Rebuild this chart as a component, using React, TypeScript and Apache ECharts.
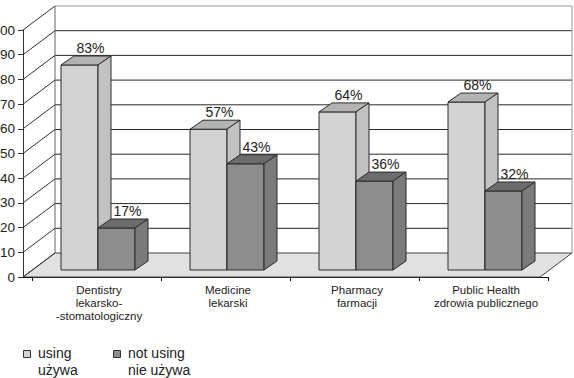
import React, { useEffect, useRef } from "react";
import * as echarts from "echarts";

const categories = [
  "Dentistry\nlekarsko-\n-stomatologiczny",
  "Medicine\nlekarski",
  "Pharmacy\nfarmacji",
  "Public Health\nzdrowia publicznego",
];
const usingValues = [83, 57, 64, 68];
const notUsingValues = [17, 43, 36, 32];
const seriesNames = ["using", "not using"];
const legendLines = [
  ["using", "używa"],
  ["not using", "nie używa"],
];
const yMin = 0;
const yMax = 100;
const yInterval = 10;

const FONT = "'Liberation Sans', Arial, Helvetica, sans-serif";

const barColors = [
  { front: "#d3d3d3", top: "#b3b3b3", side: "#c2c2c2" },
  { front: "#8d8d8d", top: "#6c6c6c", side: "#7b7b7b" },
];

export default function App() {
  const ref = useRef<HTMLDivElement>(null);
  useEffect(() => {
    document.body.style.margin = "0";
    const chart = echarts.init(ref.current!, null, { renderer: "svg" });

    const frameRender = (params: any, api: any) => {
      const cs = params.coordSys;
      const x0 = cs.x - 9;
      const x1 = cs.x + cs.width - 8;
      const DX = 32;
      const DY = -24;
      const yAt = (v: number) => api.coord([0, v])[1];
      const y0 = yAt(0);
      const children: any[] = [];
      children.push({
        type: "polygon",
        shape: { points: [[x0, y0], [x0 + DX, y0 + DY], [x1 + DX, y0 + DY], [x1, y0]] },
        style: { fill: "#e1e1e1", stroke: "#444", lineWidth: 1 },
      });
      for (let v = yMin + yInterval; v < yMax; v += yInterval) {
        children.push({
          type: "line",
          shape: { x1: x0 + DX, y1: yAt(v) + DY, x2: x1 + DX, y2: yAt(v) + DY },
          style: { stroke: "#2a2a2a", lineWidth: 1 },
        });
      }
      children.push({
        type: "polyline",
        shape: { points: [[x0 + DX, yAt(yMax) + DY], [x1 + DX, yAt(yMax) + DY], [x1 + DX, y0 + DY]] },
        style: { stroke: "#999", lineWidth: 1, fill: null },
      });
      children.push({
        type: "line",
        shape: { x1: x0 + DX, y1: yAt(yMax) + DY, x2: x0 + DX, y2: y0 + DY },
        style: { stroke: "#666", lineWidth: 1 },
      });
      for (let v = yMin; v <= yMax; v += yInterval) {
        children.push({
          type: "line",
          shape: { x1: x0, y1: yAt(v), x2: x0 + DX, y2: yAt(v) + DY },
          style: { stroke: "#333", lineWidth: 1 },
        });
      }
      children.push({
        type: "line",
        shape: { x1: x0, y1: y0 + 0.5, x2: cs.x, y2: y0 + 0.5 },
        style: { stroke: "#111", lineWidth: 1 },
      });
      return { type: "group", children };
    };

    const makeBarRender = (idx: number) => (params: any, api: any) => {
      const i = api.value(0);
      const v = api.value(1);
      const base = api.coord([i, 0]);
      const topPt = api.coord([i, v]);
      const W = 37;
      const dx = 13;
      const dy = -9;
      const shift = -7;
      const cx = base[0] + 1.5;
      const left = idx === 0 ? cx - W : cx;
      const yb = base[1] + shift;
      const yt = topPt[1] + shift;
      const c = barColors[idx];
      const stroke = { stroke: "#2b2b2b", lineWidth: 1 };
      return {
        type: "group",
        children: [
          {
            type: "rect",
            shape: { x: left, y: yt, width: W, height: yb - yt },
            style: { fill: c.front, ...stroke },
          },
          {
            type: "polygon",
            shape: { points: [[left, yt], [left + dx, yt + dy], [left + W + dx, yt + dy], [left + W, yt]] },
            style: { fill: c.top, ...stroke },
          },
          {
            type: "polygon",
            shape: { points: [[left + W, yt], [left + W + dx, yt + dy], [left + W + dx, yb + dy], [left + W, yb]] },
            style: { fill: c.side, ...stroke },
          },
          {
            type: "text",
            x: left + W / 2 + 11,
            y: yt - 17,
            style: {
              text: v + "%",
              fill: "#222",
              fontSize: 14,
              fontFamily: FONT,
              align: "center",
              verticalAlign: "middle",
            },
          },
        ],
      };
    };

    const legendX = [23, 113];
    const legendGraphics: any[] = [];
    legendLines.forEach((lines, k) => {
      legendGraphics.push({
        type: "rect",
        x: legendX[k] + 0.5,
        y: 350.5,
        shape: { x: 0, y: 0, width: 7, height: 7 },
        style: { fill: barColors[k].front, stroke: "#333", lineWidth: 1 },
      });
      lines.forEach((t, j) => {
        legendGraphics.push({
          type: "text",
          x: legendX[k] + 15,
          y: 353 + j * 17,
          style: {
            text: t,
            fill: "#222",
            fontSize: 14,
            fontFamily: FONT,
            align: "left",
            verticalAlign: "middle",
          },
        });
      });
    });

    chart.setOption({
      animation: false,
      backgroundColor: "#fff",
      grid: { left: 32, right: 26, top: 30, bottom: 101, containLabel: false, outerBoundsMode: "none" },
      graphic: legendGraphics,
      xAxis: {
        type: "category",
        data: categories,
        boundaryGap: true,
        axisLine: { show: true, lineStyle: { color: "#111", width: 1 } },
        axisTick: { show: true, length: 4, lineStyle: { color: "#111" } },
        axisLabel: {
          margin: 6,
          fontSize: 11.5,
          lineHeight: 13,
          fontFamily: FONT,
          color: "#222",
          interval: 0,
          padding: [0, 0, 0, 5],
        },
        splitLine: { show: false },
      },
      yAxis: {
        type: "value",
        min: yMin,
        max: yMax,
        interval: yInterval,
        offset: 9,
        axisLine: { show: true, lineStyle: { color: "#333", width: 1 } },
        axisTick: { show: true, length: 5, lineStyle: { color: "#333" } },
        axisLabel: { margin: 8, fontSize: 13.5, fontFamily: FONT, color: "#222" },
        splitLine: { show: false },
      },
      series: [
        {
          name: "frame",
          type: "custom",
          renderItem: frameRender,
          data: [[0, 0]],
          z: 1,
          silent: true,
          clip: false,
        },
        {
          name: seriesNames[0],
          type: "custom",
          renderItem: makeBarRender(0),
          data: usingValues.map((v, i) => [i, v]),
          encode: { x: 0, y: 1 },
          z: 2,
          clip: false,
        },
        {
          name: seriesNames[1],
          type: "custom",
          renderItem: makeBarRender(1),
          data: notUsingValues.map((v, i) => [i, v]),
          encode: { x: 0, y: 1 },
          z: 3,
          clip: false,
        },
      ],
    });
    return () => chart.dispose();
  }, []);
  return <div ref={ref} style={{ width: 574, height: 378 }} />;
}
